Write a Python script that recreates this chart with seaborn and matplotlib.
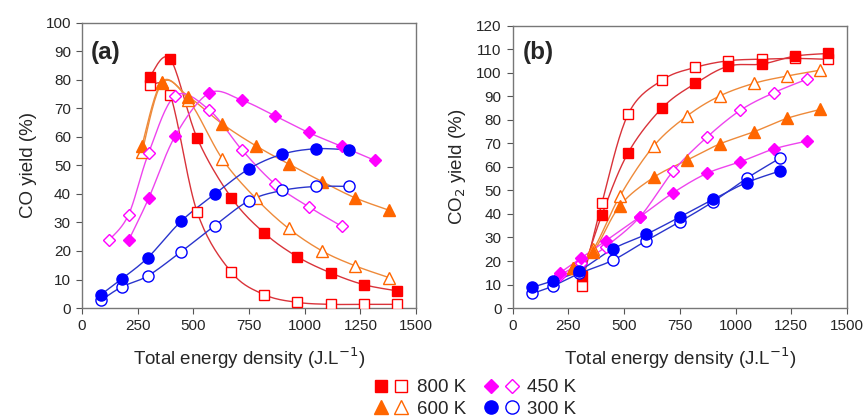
import numpy as np
import pandas as pd
import matplotlib
matplotlib.use("Agg")
import matplotlib.pyplot as plt
from matplotlib.legend_handler import HandlerTuple
from matplotlib.lines import Line2D
import seaborn as sns

sns.set_style("ticks")
plt.rcParams["font.family"] = ["Liberation Sans", "DejaVu Sans"]

# ─── Data ─────────────────────────────────────────────────────────────────
# panel (a): CO yield
a_800_x = [304, 396, 517, 670, 818, 966, 1117, 1265, 1416]
a_800_fill = [81.1, 87.2, 59.5, 38.7, 26.3, 18.0, 12.3, 8.2, 6.0]
a_800_open = [78.1, 74.6, 33.6, 12.6, 4.7, 2.0, 1.3, 1.3, 1.3]

a_600_x = [269, 359, 478, 630, 779, 927, 1078, 1226, 1377]
a_600_fill = [56.9, 79.3, 74.1, 64.5, 56.9, 50.5, 44.3, 38.6, 34.3]
a_600_open = [54.5, 78.8, 72.9, 52.2, 38.5, 27.9, 20.0, 14.8, 10.7]

a_450f_x = [209, 299, 419, 571, 718, 867, 1017, 1167, 1315]
a_450_fill = [23.7, 38.4, 60.4, 75.3, 72.8, 67.3, 61.5, 56.6, 51.7]
a_450o_x = [120, 209, 299, 419, 571, 718, 867, 1017, 1167]
a_450_open = [23.7, 32.7, 54.3, 74.4, 69.4, 55.4, 43.4, 35.5, 28.6]

a_300_x = [85, 178, 296, 446, 596, 750, 899, 1049, 1200]
a_300_fill = [4.7, 10.2, 17.7, 30.5, 39.9, 48.8, 53.9, 55.8, 55.4]
a_300_open = [2.7, 7.4, 11.3, 19.8, 28.9, 37.6, 41.2, 42.6, 42.6]

# panel (b): CO2 yield
b_800_x = [309, 400, 518, 671, 820, 967, 1118, 1267, 1416]
b_800_fill = [13.6, 39.5, 66.0, 85.1, 95.5, 102.8, 103.7, 107.1, 108.2]
b_800_open = [9.3, 44.5, 82.4, 96.9, 102.3, 105.1, 105.8, 106.1, 105.7]

b_600_x = [269, 362, 481, 632, 783, 928, 1082, 1230, 1379]
b_600_fill = [16.9, 23.9, 43.5, 55.5, 62.9, 69.7, 74.9, 80.6, 84.4]
b_600_open = [17.0, 25.0, 47.6, 68.8, 81.7, 90.1, 95.5, 98.6, 101.1]

b_450_x = [212, 305, 418, 571, 720, 870, 1022, 1171, 1321]
b_450_fill = [15.0, 21.1, 28.6, 38.8, 49.0, 57.2, 62.2, 67.6, 71.0]
b_450_open = [14.0, 19.0, 26.1, 38.8, 58.2, 72.5, 84.1, 91.5, 97.3]

b_300_x = [88, 179, 299, 451, 598, 750, 899, 1049, 1197]
b_300_fill = [8.8, 11.5, 15.9, 25.2, 31.3, 38.7, 46.2, 53.3, 58.2]
b_300_open = [6.2, 9.3, 14.7, 20.4, 28.6, 36.7, 45.2, 55.1, 63.6]

series_names = ["800 K", "600 K", "450 K", "300 K"]
marker_of = {"800 K": "s", "600 K": "^", "450 K": "D", "300 K": "o"}
marker_color = {"800 K": "#ff0000", "600 K": "#ff6600", "450 K": "#ff00ff", "300 K": "#0000ff"}
line_color = {"800 K": "#d9333a", "600 K": "#ee8a3a", "450 K": "#ee44ee", "300 K": "#2a35cc"}
marker_size = {"800 K": 7.5, "600 K": 8, "450 K": 6, "300 K": 8}

panel_a = [
    ("800 K", a_800_x, a_800_fill, a_800_x, a_800_open),
    ("600 K", a_600_x, a_600_fill, a_600_x, a_600_open),
    ("450 K", a_450f_x, a_450_fill, a_450o_x, a_450_open),
    ("300 K", a_300_x, a_300_fill, a_300_x, a_300_open),
]
panel_b = [
    ("800 K", b_800_x, b_800_fill, b_800_x, b_800_open),
    ("600 K", b_600_x, b_600_fill, b_600_x, b_600_open),
    ("450 K", b_450_x, b_450_fill, b_450_x, b_450_open),
    ("300 K", b_300_x, b_300_fill, b_300_x, b_300_open),
]


def smooth_curve(xs, ys, n=20):
    """Excel-style smoothed line (Catmull-Rom through the points)."""
    p = np.column_stack([xs, ys]).astype(float)
    p = np.vstack([p[0], p, p[-1]])
    out = []
    t = np.linspace(0, 1, n)[:, None]
    for i in range(1, len(p) - 2):
        p0, p1, p2, p3 = p[i - 1], p[i], p[i + 1], p[i + 2]
        c1 = p1 + (p2 - p0) / 6
        c2 = p2 - (p3 - p1) / 6
        seg = ((1 - t) ** 3) * p1 + 3 * ((1 - t) ** 2) * t * c1 + 3 * (1 - t) * t ** 2 * c2 + t ** 3 * p2
        out.append(seg)
    out = np.vstack(out)
    return pd.DataFrame({"x": out[:, 0], "y": out[:, 1]})


def draw_panel(ax, series):
    for name, xf, yf, xo, yo in series:
        c = marker_color[name]
        for xs, ys, filled in [(xo, yo, False), (xf, yf, True)]:
            sns.lineplot(data=smooth_curve(xs, ys), x="x", y="y", sort=False,
                         color=line_color[name], linewidth=1.0, ax=ax)
            ax.plot(xs, ys, linestyle="none", marker=marker_of[name],
                    markersize=marker_size[name],
                    markerfacecolor=c if filled else "white",
                    markeredgecolor=c, markeredgewidth=1.0, zorder=3)
    ax.set_xlim(0, 1500)
    ax.set_xticks(range(0, 1501, 250))
    ax.set_xlabel("Total energy density (J.L$^{-1}$)", fontsize=13.5, labelpad=9)
    ax.tick_params(labelsize=11, length=4, pad=4, color="#555555")
    for s in ax.spines.values():
        s.set_color("#777777")
        s.set_linewidth(1.0)


fig = plt.figure(figsize=(8.67, 4.18), dpi=100)
ax_a = fig.add_axes([0.0946, 0.263, 0.3854, 0.683])
ax_b = fig.add_axes([0.5913, 0.263, 0.3857, 0.6755])

draw_panel(ax_a, panel_a)
ax_a.set_ylim(0, 100)
ax_a.set_yticks(range(0, 101, 10))
ax_a.set_ylabel("CO yield (%)", fontsize=13.5, labelpad=6)
ax_a.text(0.027, 0.935, "(a)", transform=ax_a.transAxes, fontsize=17.5, fontweight="bold", va="top")

draw_panel(ax_b, panel_b)
ax_b.set_ylim(0, 120)
ax_b.set_yticks(range(0, 121, 10))
ax_b.set_ylabel("CO$_2$ yield (%)", fontsize=13.5, labelpad=6)
ax_b.text(0.031, 0.945, "(b)", transform=ax_b.transAxes, fontsize=17.5, fontweight="bold", va="top")

# legend: filled + open marker pairs
handles = []
for name in ["800 K", "600 K", "450 K", "300 K"]:
    c = marker_color[name]
    hf = Line2D([], [], linestyle="none", marker=marker_of[name], markersize=marker_size[name] + 1.5,
                markerfacecolor=c, markeredgecolor=c)
    ho = Line2D([], [], linestyle="none", marker=marker_of[name], markersize=marker_size[name] + 1.5,
                markerfacecolor="white", markeredgecolor=c)
    handles.append((hf, ho))
fig.legend(handles, series_names, ncol=2, loc="center", bbox_to_anchor=(0.548, 0.047),
           handler_map={tuple: HandlerTuple(ndivide=None, pad=0.35)},
           frameon=False, fontsize=13.5, handlelength=1.8, handletextpad=0.45,
           columnspacing=1.0, labelspacing=0.22, borderpad=0.05)

fig.savefig("out.png", dpi=100)
